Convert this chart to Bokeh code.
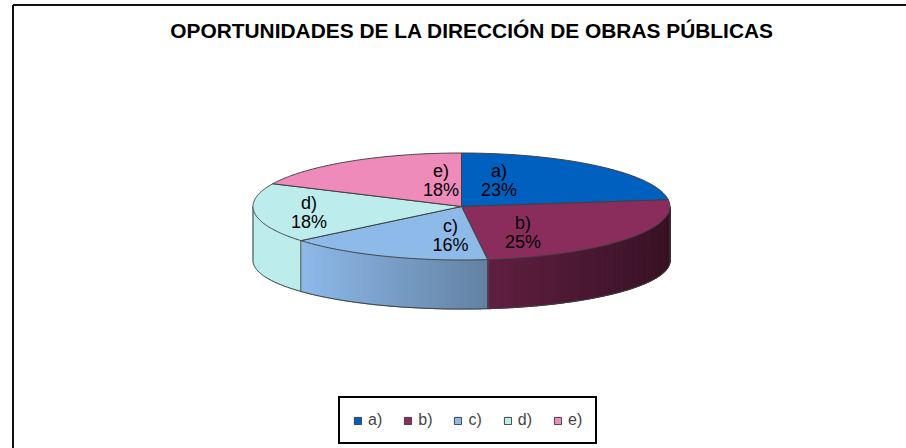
import numpy as np
from bokeh.plotting import figure
from bokeh.models import Range1d, ColumnDataSource, Legend, LegendItem, Label
from bokeh.core.properties import value
from bokeh.embed import file_html
from bokeh.resources import INLINE

# ---------------- data ----------------
categories = ["a)", "b)", "c)", "d)", "e)"]
percent = [23, 25, 16, 18, 18]
colors = ["#0060C0", "#8B2D5C", "#8EBAEA", "#BCECEC", "#EE8BBB"]
title_text = "OPORTUNIDADES DE LA DIRECCIÓN DE OBRAS PÚBLICAS"

# ---------------- layout ----------------
W, H = 906, 448
CX, CY, RA, RB = 461.0, 206.0, 208.5, 53.5      # top ellipse
CY2, RB2 = 260.0, 48.5                           # bottom ellipse
label_fx = [0.272, 0.373, 0.143, 0.737, 0.183]
label_fy = [0.643, 0.778, 0.573, 0.895, 0.571]
LINE_GAP = 19
FONT = "Liberation Sans"
EDGE = "#404040"

p = figure(width=W, height=H, x_range=Range1d(0, W), y_range=Range1d(H, 0),
           output_backend="svg", toolbar_location=None, min_border=0,
           x_axis_location=None, y_axis_location=None, outline_line_color=None)
p.grid.visible = False
p.background_fill_color = "white"
p.border_fill_color = "white"

vals = np.array(percent, dtype=float)
frac = vals / vals.sum()
ends = np.cumsum(frac) * 2 * np.pi
starts = ends - frac * 2 * np.pi


def top(t):
    return CX + RA * np.sin(t), CY - RB * np.cos(t)


def bot(t):
    return CX + RA * np.sin(t), CY2 - RB2 * np.cos(t)


def shade(hexcol, f):
    h = hexcol.lstrip("#")
    r, g, b = (int(h[i:i + 2], 16) for i in (0, 2, 4))
    return "#%02x%02x%02x" % tuple(int(max(0, min(255, round(c * f)))) for c in (r, g, b))


# ---- side faces (gradient strips) ----
sx, sy, sc = [], [], []
for i in range(len(vals)):
    lo = max(starts[i], np.pi / 2)
    hi = min(ends[i], 3 * np.pi / 2)
    if hi <= lo:
        continue
    n = max(2, int((hi - lo) / 0.012))
    ts = np.linspace(lo, hi, n + 1)
    for u, v in zip(ts[:-1], ts[1:]):
        tux, tuy = top(u)
        tvx, tvy = top(v)
        bux, buy = bot(u)
        bvx, bvy = bot(v)
        sx.append([tux, tvx, bvx, bux])
        sy.append([tuy, tvy, bvy, buy])
        xm = (tux + tvx) / 2
        f = min(1.0, max(0.38, 1 - 0.00161 * (xm - 298)))
        sc.append(shade(colors[i], f))

p.patches(sx, sy, fill_color=sc, line_color=sc, line_width=1.2)

# side outlines
edges_x, edges_y = [], []
tb = np.linspace(np.pi / 2, 3 * np.pi / 2, 200)
bx, by = bot(tb)
edges_x.append(list(bx))
edges_y.append(list(by))
for t in [np.pi / 2, 3 * np.pi / 2] + [s for s in starts if np.pi / 2 < s < 3 * np.pi / 2]:
    x1, y1 = top(t)
    x2, y2 = bot(t)
    edges_x.append([x1, x2])
    edges_y.append([y1, y2])
p.multi_line(edges_x, edges_y, line_color=EDGE, line_width=1)

# ---- top faces ----
txs, tys = [], []
for i in range(len(vals)):
    ts = np.linspace(starts[i], ends[i], 120)
    x, y = top(ts)
    txs.append([CX] + list(x))
    tys.append([CY] + list(y))
src = ColumnDataSource(dict(xs=txs, ys=tys, color=colors, label=categories))
r_top = p.patches("xs", "ys", source=src, fill_color="color", line_color=EDGE, line_width=1)

# ---- labels ----
mids = (starts + ends) / 2
ax = CX + np.array(label_fx) * RA * np.sin(mids)
ay = CY - np.array(label_fy) * RB * np.cos(mids)
p.text(x=ax, y=ay - LINE_GAP / 2, text=categories, text_align="center", text_baseline="middle",
       text_font=value(FONT), text_font_size="18px", text_color="black")
p.text(x=ax, y=ay + LINE_GAP / 2, text=["%d%%" % v for v in percent], text_align="center",
       text_baseline="middle", text_font=value(FONT), text_font_size="18px", text_color="black")

# ---- title ----
p.add_layout(Label(x=471.5, y=30, text=title_text, text_align="center", text_baseline="middle",
                   text_font=FONT, text_font_style="bold", text_font_size="20.9px", text_color="black"))

# ---- chart border (left & top edges visible) ----
p.segment(x0=[12.5, 12.5], y0=[4.5, 4.5], x1=[12.5, 930], y1=[470, 4.5], line_color="#111111", line_width=2)

# ---- legend ----
legend = Legend(items=[LegendItem(label=categories[i], renderers=[r_top], index=i) for i in range(len(categories))],
                orientation="horizontal", location=(338, 4),
                border_line_color="black", border_line_width=2, border_line_alpha=1,
                background_fill_color="white", background_fill_alpha=1,
                padding=13, spacing=21, glyph_width=9, glyph_height=9, label_standoff=6,
                label_width=0, label_height=9, label_text_font=FONT, label_text_font_size="16px",
                label_text_baseline="middle", margin=0)
p.add_layout(legend)

open("out.html", "w").write(file_html(p, INLINE))
